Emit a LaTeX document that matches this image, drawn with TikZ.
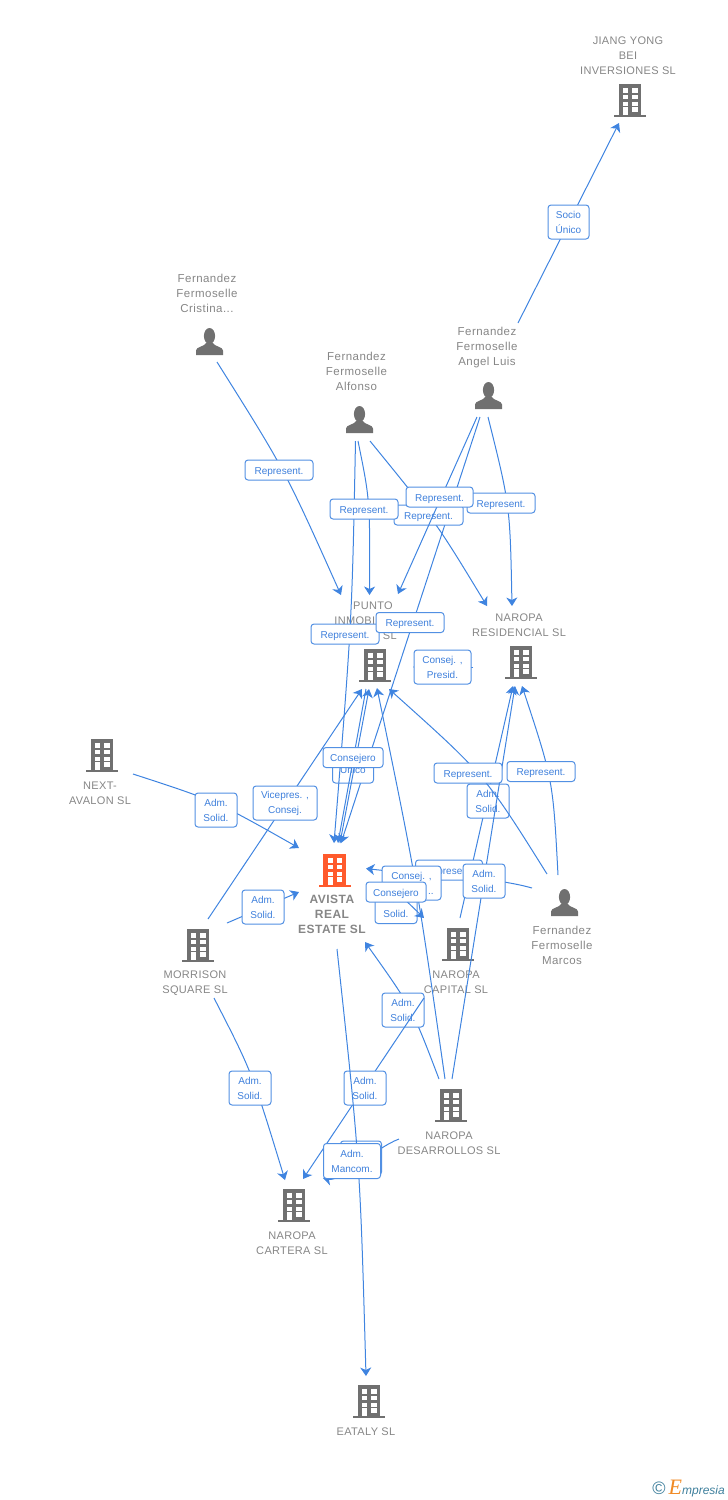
\documentclass[tikz,border=0pt]{standalone}
\usepackage{fontspec}
\setmainfont{Liberation Sans}
\newfontfamily\entfont[LetterSpace=4]{Liberation Sans}
\newfontfamily\capsfont[LetterSpace=3]{Liberation Sans}
\newfontfamily\logofont{Liberation Serif}
\usetikzlibrary{arrows.meta}
\definecolor{iconGray}{HTML}{707070}
\definecolor{iconOrange}{HTML}{FF5A2C}
\definecolor{entGray}{HTML}{868686}
\definecolor{linkBlue}{HTML}{3F84E0}
\definecolor{roleBlue}{HTML}{3F80DC}
\definecolor{logoTeal}{HTML}{3E7F9C}
\definecolor{logoOrange}{HTML}{F08A24}
\tikzset{
	building/.style={minimum width=34,minimum height=36,inner sep=0,path picture={
		\begin{scope}[shift={(path picture bounding box.center)}]
			\fill[#1] (-11.2,-16.5) rectangle (11.2,14.5);
			\fill[#1] (-16,14) rectangle (16,16.5);
			\foreach \wy in {-12.2,-5.5,1.2}{
				\fill[white] (-6.7,\wy) rectangle (-1.7,\wy+4.4);
				\fill[white] (2.3,\wy) rectangle (7.7,\wy+4.4);
			}
			\fill[white] (2.3,6.8) rectangle (7.7,11.2);
			\fill[white] (-6.7,6.8) rectangle (-1.7,14.5);
		\end{scope}}},
	person/.style={minimum width=30,minimum height=30,inner sep=0,path picture={
		\begin{scope}[shift={(path picture bounding box.center)}]
			\fill[iconGray] (0,-5.5) ellipse (5.6 and 8);
			\fill[iconGray] (-13.5,13.5) -- (-13.5,9) .. controls (-13.5,5) and (-5,5.5) .. (-3,1)
				-- (3,1) .. controls (5,5.5) and (13.5,5) .. (13.5,9) -- (13.5,13.5) -- cycle;
		\end{scope}}},
	entity/.style={text=entGray,align=center,inner sep=0,yshift=-0.5pt,font=\entfont\fontsize{11.5}{15}\selectfont},
	company/.style={entity,font=\capsfont\fontsize{11}{15}\selectfont},
	rolebox/.style={draw=linkBlue!90!white,fill=white,rounded corners=3,line width=1,text=roleBlue,
		align=center,inner sep=0,minimum width=#1,font=\fontsize{10}{15}\selectfont,
		execute at begin node={\rule{0pt}{11pt}}},
	rolebox/.default=42,
	oneline/.style={minimum height=20},
	twoline/.style={minimum height=34},
	conn/.style={draw=linkBlue,line width=1,-{Stealth[length=8.5,width=11,inset=2.5]}},
}
\begin{document}
\begin{tikzpicture}[x=1pt,y=-1pt]
	\useasboundingbox (0,0) rectangle (728,1500);
	%========
	%Companies and persons
	%========
	\node[building=iconGray] (jiang) at (630,100.5) {};
	\node[company] (jiangtext) at (628,55) {JIANG YONG\\BEI\\INVERSIONES SL};
	\node[person] (cristina) at (209.5,341.5) {};
	\node[entity] (cristinatext) at (207,293) {Fernandez\\Fermoselle\\Cristina...};
	\node[person] (alfonso) at (359.5,419.5) {};
	\node[entity] (alfonsotext) at (356.5,371) {Fernandez\\Fermoselle\\Alfonso};
	\node[person] (angel) at (488.5,395.5) {};
	\node[entity] (angeltext) at (487,347) {Fernandez\\Fermoselle\\Angel Luis};
	\node[building=iconGray] (punto) at (375,665.5) {};
	\node[company] (puntotext) at (373,620) {PUNTO\\INMOBI\hphantom{LIARIA}\\\hphantom{XXXX} SL};
	\node[building=iconGray] (residencial) at (521,662.5) {};
	\node[company] (residencialtext) at (519,624.5) {NAROPA\\RESIDENCIAL SL};
	\node[building=iconGray] (next) at (102,755.5) {};
	\node[company] (nexttext) at (100,792.5) {NEXT-\\AVALON  SL};
	\node[building=iconOrange] (avista) at (334.5,870.5) {};
	\node[entity,font=\entfont\bfseries\fontsize{12}{15}\selectfont] (avistatext) at (332,914) {AVISTA\\REAL\\ESTATE SL};
	\node[building=iconGray] (morrison) at (198,945.5) {};
	\node[company] (morrisontext) at (195,982.5) {MORRISON\\SQUARE SL};
	\node[building=iconGray] (capital) at (458,944.5) {};
	\node[company] (capitaltext) at (456,981.5) {NAROPA\\CAPITAL SL};
	\node[person] (marcos) at (564.5,902.5) {};
	\node[entity] (marcostext) at (562,945) {Fernandez\\Fermoselle\\Marcos};
	\node[building=iconGray] (desarrollos) at (451,1105.5) {};
	\node[company] (desarrollostext) at (449,1142.5) {NAROPA\\DESARROLLOS SL};
	\node[building=iconGray] (cartera) at (294,1205.5) {};
	\node[company] (carteratext) at (292,1242.5) {NAROPA\\CARTERA SL};
	\node[building=iconGray] (eataly) at (369,1401.5) {};
	\node[company] (eatalytext) at (366,1431) {EATALY  SL};

	%========
	%Connector ends
	%========
	\coordinate (angelJ) at (518,323);		\coordinate (jiangT) at (619,123);
	\coordinate (cristinaP) at (217,362);	\coordinate (puntoA) at (341,595);
	\coordinate (alfonsoV) at (355.5,441);	\coordinate (avistaA) at (334,843);
	\coordinate (alfonsoP) at (358,441);	\coordinate (puntoB) at (369.5,595);
	\coordinate (alfonsoR) at (370,441);	\coordinate (residA) at (487,606);
	\coordinate (angelP) at (477,417);		\coordinate (puntoC) at (398,594);
	\coordinate (angelV) at (480,417);		\coordinate (avistaB) at (341,843);
	\coordinate (angelR) at (488,417);		\coordinate (residB) at (512,606);
	\coordinate (residP) at (473,667);		\coordinate (puntoD) at (413,667);
	\coordinate (marcosR) at (558,875);		\coordinate (residC) at (522,686);
	\coordinate (marcosP) at (547,874);		\coordinate (puntoE) at (389,689);
	\coordinate (marcosV) at (532,888);		\coordinate (avistaC) at (366,868.5);
	\coordinate (capitalR) at (460,918);	\coordinate (residD) at (513,686);
	\coordinate (desarR) at (452,1079);		\coordinate (residE) at (515,686);
	\coordinate (desarP) at (445,1079);		\coordinate (puntoF) at (377,688);
	\coordinate (desarV) at (439,1079);		\coordinate (avistaD) at (365,942);
	\coordinate (desarC) at (399,1139);		\coordinate (carteraA) at (323,1178);
	\coordinate (morrisP) at (208,919);		\coordinate (puntoG) at (362,689);
	\coordinate (morrisV) at (227,923);		\coordinate (avistaE) at (299,892);
	\coordinate (morrisC) at (214,998);		\coordinate (carteraB) at (285,1180);
	\coordinate (nextV) at (133,774);		\coordinate (avistaF) at (299,848);
	\coordinate (avistaO) at (337,949);		\coordinate (eatalyT) at (366,1376);
	\coordinate (capitalC) at (424,998);	\coordinate (carteraC) at (303,1179);
	\coordinate (puntoO) at (366,689);		\coordinate (avistaG) at (338,843);
	\coordinate (avistaP) at (340,843);		\coordinate (puntoH) at (369,689);
	\coordinate (avistaN) at (396,891);		\coordinate (capitalT) at (424,918);

	%========
	%Top
	%========
	\draw[conn] (angelJ) -- (jiangT);
	\node[rolebox=41,twoline] (socio) at (568.5,222) {Socio\\Único};
	\draw[conn] (cristinaP) .. controls (285,470) .. (puntoA);
	\node[rolebox=68,oneline] (repcristina) at (279,470) {Represent.};

	\draw[conn] (angelV) .. controls (412,628) .. (avistaB);
	\draw[conn] (alfonsoR) .. controls (436,522) .. (residA);
	\node[rolebox=69,oneline] (repalfonso) at (428.5,515) {Represent.};
	\draw[conn] (angelP) -- (puntoC);
	\draw[conn] (angelR) .. controls (510,505) .. (residB);
	\node[rolebox=68,oneline] (repangelR) at (501,503) {Represent.};
	\node[rolebox=67,oneline] (repangelP) at (439.5,497) {Represent.};
	\node[rolebox=41,twoline] (unico) at (353,766) {\hphantom{Socio}\\Único};
	\draw[conn] (alfonsoV) .. controls (352,620) .. (avistaA);
	\draw[conn] (alfonsoP) .. controls (370,500) .. (puntoB);
	\node[rolebox=68,oneline] (repalfonsoP) at (364,509) {Represent.};
	\node[rolebox=68,oneline] (repalfonsoV) at (345,634) {Represent.};
	\node[rolebox=68,oneline] (repangelV) at (410,622.5) {Represent.};
	\draw[conn] (puntoO) -- (avistaG);
	\draw[conn] (avistaP) -- (puntoH);
	\node[rolebox=60,oneline] (consejero) at (353,757.5) {Consejero};
	\draw[conn] (residP) -- (puntoD);
	\node[rolebox=57,twoline] (presid) at (442.5,667) {Consej. ,\\Presid.};

	%========
	%Middle
	%========
	\draw[conn] (nextV) .. controls (216,801) .. (avistaF);
	\node[rolebox=42,twoline] (solidnext) at (216,810) {Adm.\\Solid.};
	\draw[conn] (morrisP) -- (puntoG);
	\node[rolebox=64,twoline] (vicepres) at (285,803) {Vicepres. ,\\Consej.};
	\draw[conn] (morrisV) -- (avistaE);
	\node[rolebox=42,twoline] (solidmorris) at (263,907) {Adm.\\Solid.};
	\draw[conn] (capitalR) -- (residD);
	\node[rolebox=42,twoline] (solidcapital) at (488,801) {Adm.\\Solid.};
	\draw[conn] (desarR) -- (residE);
	\draw[conn] (marcosP) .. controls (485,775) .. (puntoE);
	\draw[conn] (marcosR) .. controls (553,780) .. (residC);
	\node[rolebox=68,oneline] (repmarcosP) at (468,773) {Represent.};
	\node[rolebox=68,oneline] (repmarcosR) at (541,771.5) {Represent.};

	\draw[conn] (marcosV) .. controls (490,876) and (420,875) .. (avistaC);
	\node[rolebox=67,oneline] (repmarcosV) at (449,870) {Represent.};
	\draw[conn] (desarP) .. controls (417,883) .. (puntoF);
	\node[rolebox=59,twoline] (consej) at (411.5,883) {Consej. ,\\\hphantom{Vicepres}..};
	\node[rolebox=42,twoline] (solidavista) at (396,906.5) {Adm.\\Solid.};
	\draw[conn] (avistaN) -- (capitalT);
	\node[rolebox=60,oneline] (consejeroB) at (396,892) {Consejero};
	\node[rolebox=42,twoline] (soliddesar) at (484,881) {Adm.\\Solid.};

	%========
	%Bottom
	%========
	\draw[conn] (desarV) .. controls (412,1008) .. (avistaD);
	\node[rolebox=42,twoline] (soliddesarV) at (403,1010) {Adm.\\Solid.};
	\draw[conn] (morrisC) .. controls (252,1072) .. (carteraB);
	\node[rolebox=42,twoline] (solidmorrisC) at (250,1088) {Adm.\\Solid.};
	\draw[conn] (capitalC) -- (carteraC);
	\node[rolebox=42,twoline] (solidcapitalC) at (365,1088) {Adm.\\Solid.};
	\draw[conn] (desarC) .. controls (375,1148) and (340,1182) .. (carteraA);
	\node[rolebox=41,twoline] (mancomB) at (361,1158) {};
	\draw[conn] (avistaO) .. controls (360,1162) .. (eatalyT);
	\node[rolebox=57,twoline,minimum height=35] (mancom) at (352,1161) {Adm.\\Mancom.};

	%Logo
	\node[inner sep=0,text=logoTeal,anchor=east,font=\itshape\fontsize{12}{15}\selectfont] (logo) at (725,1489)
		{{\fontsize{18}{18}\selectfont\upshape ©}\hspace{3pt}{\logofont\color{logoOrange}\fontsize{22}{15}\selectfont E}mpresia};
\end{tikzpicture}
\end{document}
